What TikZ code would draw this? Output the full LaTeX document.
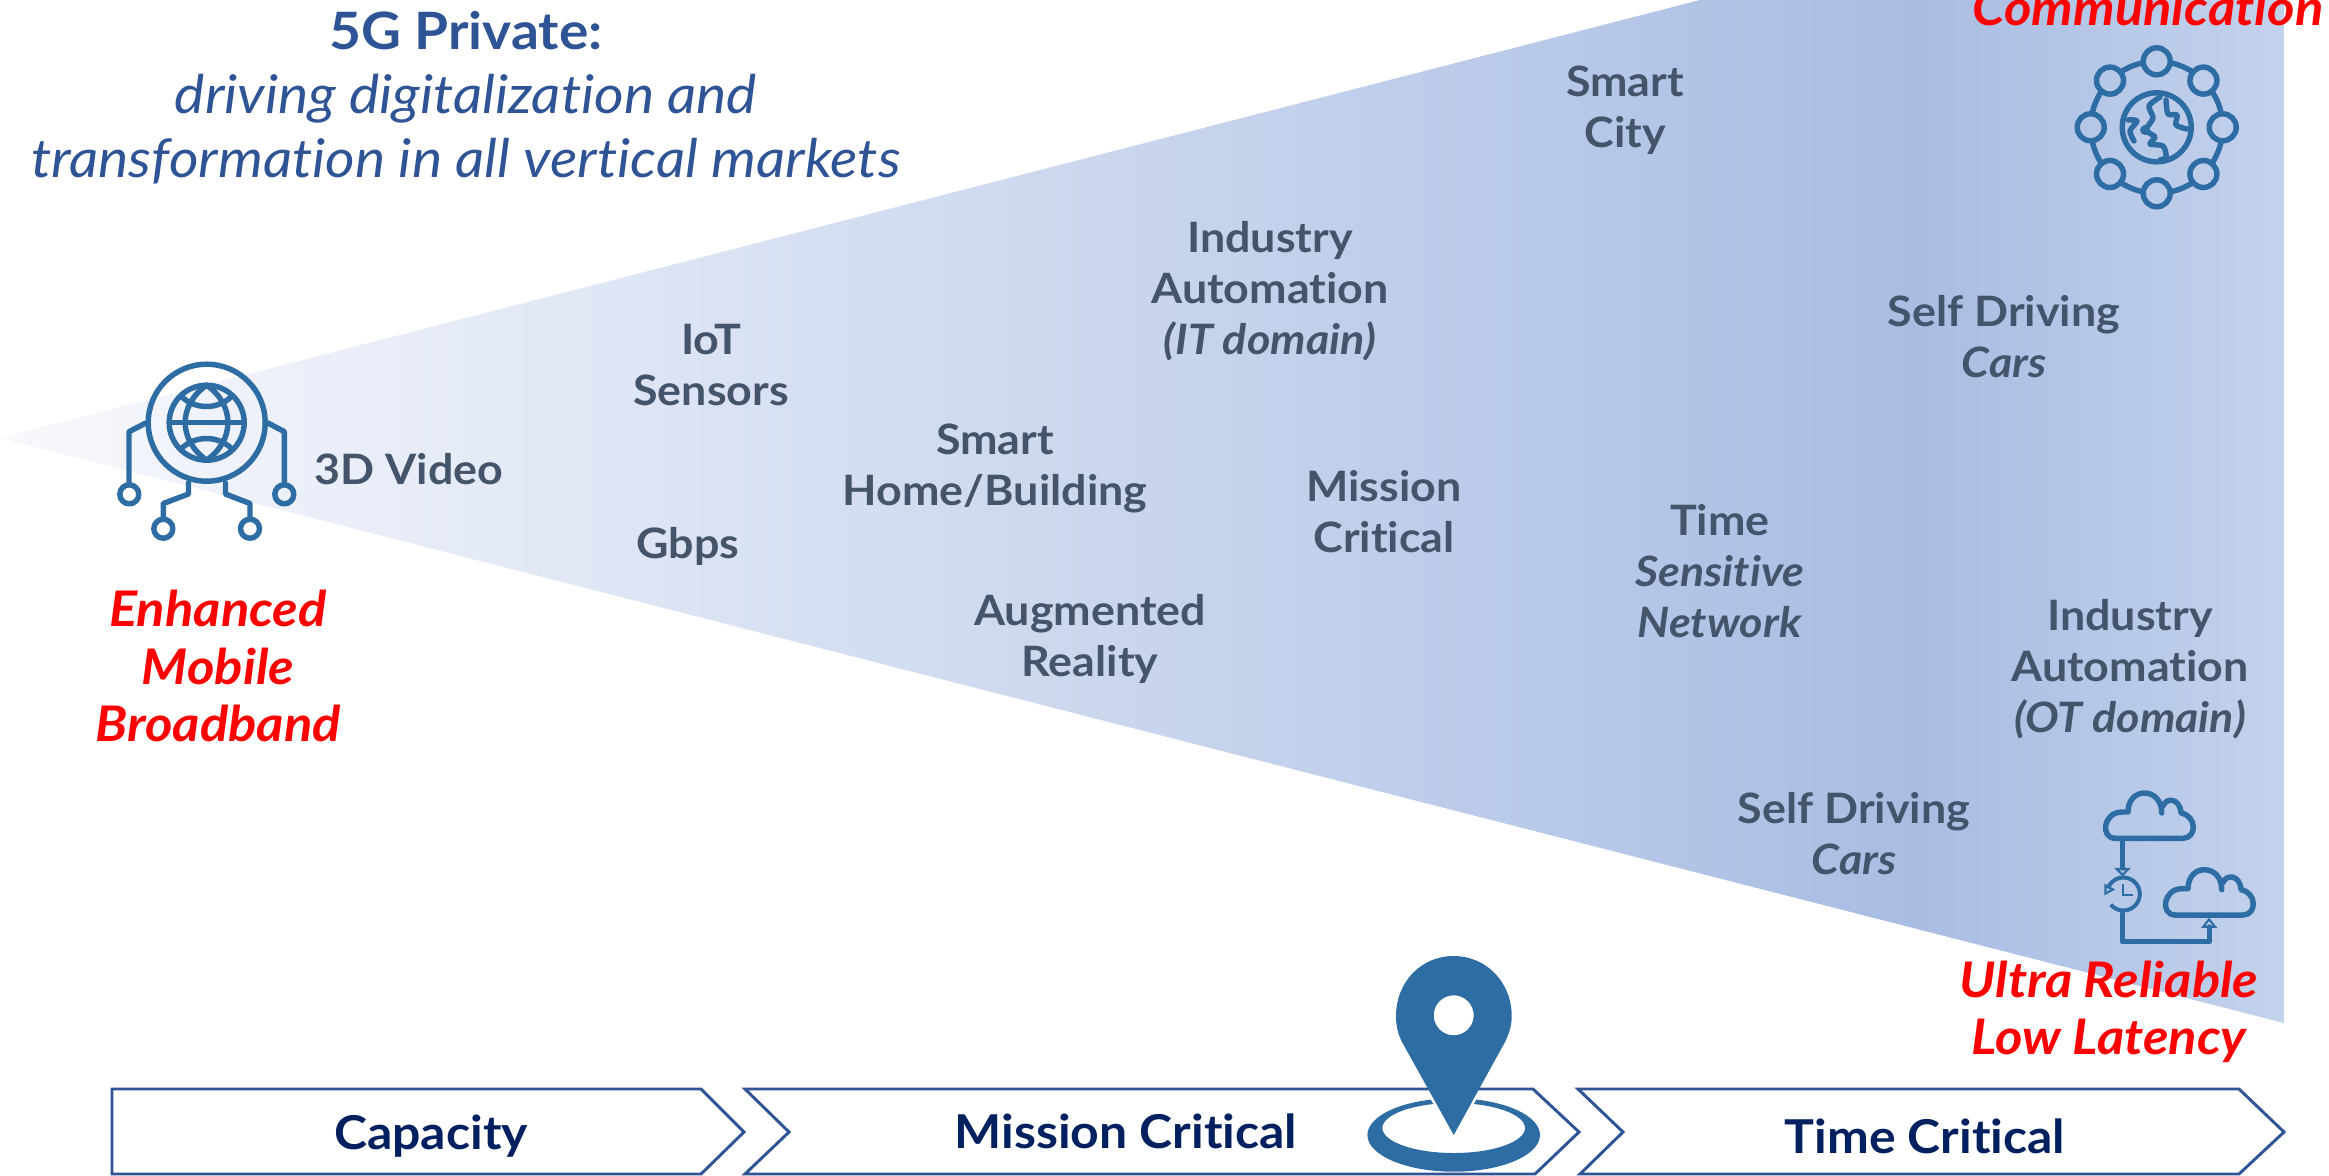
\documentclass[tikz,border=0pt]{standalone}
\usepackage{fontspec}
\setmainfont{Lato}[Ligatures=NoCommon,FakeStretch=1.07]
\definecolor{wedgeA}{HTML}{F8F9FD}
\definecolor{wedgeB}{HTML}{A9BDE3}
\definecolor{wedgeC}{HTML}{C3D2EC}
\definecolor{iconblue}{HTML}{2E6DA4}
\definecolor{titleblue}{HTML}{2F5496}
\definecolor{labelgray}{HTML}{44546A}
\definecolor{navytext}{HTML}{002060}
\pgfdeclarehorizontalshading{wedgefade}{100bp}{color(0bp)=(wedgeA); color(25bp)=(wedgeA); color(67bp)=(wedgeB); color(75bp)=(wedgeC); color(100bp)=(wedgeC)}
\tikzset{
  labeltext/.style={anchor=center,inner sep=0.75pt,align=center,text=labelgray,font=\fontsize{31.4}{38.25}\selectfont\bfseries},
  redtext/.style={anchor=center,inner sep=0.75pt,align=center,text=red,font=\fontsize{36.8}{43}\selectfont\bfseries\itshape},
  titletext/.style={anchor=center,inner sep=0.75pt,align=center,text=titleblue},
  barltext/.style={anchor=center,inner sep=0.75pt,text=navytext,font=\fontsize{35}{40}\selectfont\bfseries},
  chevron/.style={draw=titleblue,line width=2.2pt,miter limit=10},
  iconline/.style={draw=iconblue,line width=4.1pt,line cap=round,line join=round},
  iconthin/.style={draw=iconblue,line width=1.6pt,line join=miter},
}
\begin{document}
\begin{tikzpicture}[x=0.75pt,y=0.75pt,yscale=-1,xscale=1]
\useasboundingbox (0,0) rectangle (2329,1175);

%Shape: Wedge
\path[shading=wedgefade,shading angle=0] (0,438) -- (1700,0) -- (2284,0) -- (2284,1023) -- cycle;

%Shape: Chevrons
\draw[chevron] (112,1089) -- (701,1089) -- (744,1132) -- (701,1174) -- (112,1174) -- cycle;
\draw[chevron] (745,1089) -- (1533,1089) -- (1579,1132) -- (1535,1174) -- (745,1174) -- (789,1132) -- cycle;
\draw[chevron] (1578,1089) -- (2239,1089) -- (2284,1132) -- (2239,1174) -- (1580,1174) -- (1623,1132) -- cycle;

%Shape: Globe icon
\draw[iconline] (206.7,422.7) circle (58.5);
\draw[iconline] (206.7,422.7) circle (37.5);
\draw[iconline] (169.2,422.7) -- (244.2,422.7);
\draw[iconline] (206.7,385.2) .. controls (178,405) and (178,440) .. (206.7,460.2);
\draw[iconline] (206.7,385.2) .. controls (235,405) and (235,440) .. (206.7,460.2);
\draw[iconline] (181,396) .. controls (195,410) and (218,410) .. (232,396);
\draw[iconline] (181,449) .. controls (195,435) and (218,435) .. (232,449);
%Straight Lines
\draw[iconline] (146,423) -- (129,431.7) -- (129,484);
\draw[iconline] (268,423) -- (284.3,431.7) -- (284.3,484);
\draw[iconline] (188.5,483) -- (188.5,494) -- (163.3,503.5) -- (163.3,518);
\draw[iconline] (225.5,483) -- (225.5,494) -- (250,503.5) -- (250,518);
\draw[iconline] (129.3,494.3) circle (9.5);
\draw[iconline] (284.3,494.3) circle (9.5);
\draw[iconline] (163.3,528.7) circle (9.5);
\draw[iconline] (250,528.7) circle (9.5);

%Shape: Network icon
\coordinate (ringc) at (2156.7,127.3);
\draw[iconline] (ringc) circle (34.5);
\draw[iconline] (2156.7,61.3) circle (13.5);
\draw[iconline] (2203.4,80.6) circle (13.5);
\draw[iconline] (2222.7,127.3) circle (13.5);
\draw[iconline] (2203.4,174) circle (13.5);
\draw[iconline] (2156.7,193.3) circle (13.5);
\draw[iconline] (2110,174) circle (13.5);
\draw[iconline] (2090.7,127.3) circle (13.5);
\draw[iconline] (2110,80.6) circle (13.5);
\draw[iconline] ([shift={(14:66)}]ringc) arc (14:31:66);
\draw[iconline] ([shift={(59:66)}]ringc) arc (59:76:66);
\draw[iconline] ([shift={(104:66)}]ringc) arc (104:121:66);
\draw[iconline] ([shift={(149:66)}]ringc) arc (149:166:66);
\draw[iconline] ([shift={(194:66)}]ringc) arc (194:211:66);
\draw[iconline] ([shift={(239:66)}]ringc) arc (239:256:66);
\draw[iconline] ([shift={(284:66)}]ringc) arc (284:301:66);
\draw[iconline] ([shift={(329:66)}]ringc) arc (329:346:66);
\draw[iconline] plot[smooth] coordinates {(2160,97) (2149,106) (2153,118) (2146,130) (2155,137) (2150,144) (2163,146) (2166,157) (2160,160)};
\draw[iconline] plot[smooth] coordinates {(2166,100) (2168,114) (2177,115) (2176,125) (2187,129)};
\draw[iconline] plot[smooth] coordinates {(2128,120) (2137,121) (2130,131) (2134,141)};
\fill[iconblue] (2145,130) circle (5);

%Shape: Cloud icon
\draw[iconline] (2115,838.3) .. controls (2100,838) and (2103,812) .. (2122,812) -- (2128,812) .. controls (2128,786) and (2162,787) .. (2161.7,813);
\draw[iconline] (2163,806) .. controls (2166,797) and (2180,798) .. (2181,813) .. controls (2197,816) and (2197,838) .. (2183,838.3) -- (2115,838.3);
\draw[iconline] (2175,915) .. controls (2160,914.7) and (2163,888.7) .. (2182,888.7) -- (2188,888.7) .. controls (2188,862.7) and (2222,863.7) .. (2221.7,889.7);
\draw[iconline] (2223,882.7) .. controls (2226,873.7) and (2240,874.7) .. (2241,889.7) .. controls (2257,892.7) and (2257,914.7) .. (2243,915) -- (2175,915);
\draw[iconline] (2122.3,840) -- (2122.3,868);
\draw[iconthin] (2116.7,869) -- (2128.3,869) -- (2122.5,875) -- cycle;
\draw[draw=iconblue,line width=3pt] ([shift={(140:16.5)}]2123.3,894) arc (140:-160:16.5);
\draw[iconthin] (2105.5,885.5) -- (2105.5,893.5) -- (2113,889.5) -- cycle;
\draw[iconthin] (2123.3,884) -- (2123.3,895) -- (2133,895);
\draw[iconline] (2122.3,913.3) -- (2122.3,941.7) -- (2209.3,941.7) -- (2209.3,927);
\draw[iconthin] (2203.3,926.7) -- (2215,926.7) -- (2209,919.3) -- cycle;

%Shape: Location pin
\fill[iconblue,even odd rule] (1453.7,1135) ellipse (86.3 and 36.7) (1453.7,1128) ellipse (71.3 and 25);
\fill[white] (1426,1092) -- (1481,1092) -- (1453.7,1136) -- cycle;
\fill[iconblue,even odd rule] (1453.7,1135) -- (1402,1042) .. controls (1397,1032) and (1396,1024) .. (1396,1016) .. controls (1396,982) and (1421,956) .. (1453.7,956) .. controls (1486,956) and (1511.7,982) .. (1511.7,1016) .. controls (1511.7,1024) and (1510,1032) .. (1505,1042) -- cycle (1453.7,1015.3) circle (20);

% Text Node
\draw (466,31) node (titlehead) [titletext,font=\fontsize{38.6}{48}\selectfont\bfseries] {5G Private:};
% Text Node
\draw (466,129) node (titlebody) [titletext,font=\fontsize{40}{48}\selectfont\itshape] {driving digitalization and\\transformation in all vertical markets};
% Text Node
\draw (218,666) node (embb) [redtext] {Enhanced\\Mobile\\Broadband};
% Text Node
\draw (2109,1012) node (urll) [redtext] {Ultra Reliable\\Low Latency};
% Text Node
\draw (2148,25) node (mmtc) [redtext,anchor=base] {Communication};
% Text Node
\draw (409,469) node (video) [labeltext] {3D Video};
% Text Node
\draw (711,365) node (iot) [labeltext] {IoT\\Sensors};
% Text Node
\draw (688,546) node (gbps) [labeltext] {Gbps};
% Text Node
\draw (995,468) node (home) [labeltext] {Smart\\Home/Building};
% Text Node
\draw (1090,639) node (reality) [labeltext] {Augmented\\Reality};
% Text Node
\draw (1270,291) node (itauto) [labeltext] {Industry\\Automation\\\textit{(IT domain)}};
% Text Node
\draw (1384,512) node (mission) [labeltext] {Mission\\Critical};
% Text Node
\draw (1625,110) node (city) [labeltext] {Smart\\City};
% Text Node
\draw (1720,571) node (tsn) [labeltext] {Time\\\textit{Sensitive}\\\textit{Network}};
% Text Node
\draw (2004,337) node (carsup) [labeltext] {Self Driving\\\textit{Cars}};
% Text Node
\draw (1854,834) node (carsdown) [labeltext] {Self Driving\\\textit{Cars}};
% Text Node
\draw (2130,669) node (otauto) [labeltext] {Industry\\Automation\\\textit{(OT domain)}};
% Text Node
\draw (431,1136) node (capacity) [barltext] {Capacity};
% Text Node
\draw (1126,1131) node (barmission) [barltext] {Mission Critical};
% Text Node
\draw (1925,1136) node (timecrit) [barltext] {Time Critical};

\end{tikzpicture}
\end{document}
